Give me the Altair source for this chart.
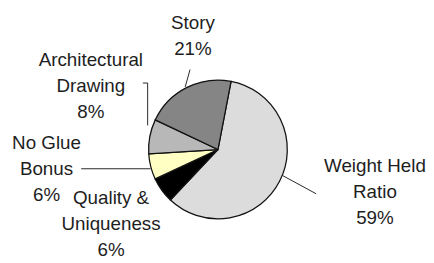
import altair as alt
import pandas as pd
import math

# ---- data ----
categories = ["Weight Held Ratio", "Quality & Uniqueness", "No Glue Bonus",
              "Architectural Drawing", "Story"]
values = [59, 6, 6, 8, 21]
label_text = ["Weight Held\nRatio\n59%", "Quality &\nUniqueness\n6%",
              "No Glue\nBonus\n6%", "Architectural\nDrawing\n8%", "Story\n21%"]

# ---- styling / layout (not data) ----
fills = ["#dcdcdc", "#000000", "#ffffc4", "#b8b8b8", "#858585"]
W, H = 418, 247
CX, CY, R = 215, 139, 72
PX, PY = 3, 3  # pie nudge
start = 0.19  # radians clockwise from 12 o'clock
# label anchor (centre x, first-line baseline y) relative to pie centre
label_off = [(166, 26), (-108, 60), (-175, 2), (-129, -84), (-23, -122)]
# leader lines relative to pie centre
leaders = {
    "Weight Held Ratio": [(70, 30), (105, 49)],
    "No Glue Bonus": [(-139, 23), (-67, 23)],
    "Architectural Drawing": [(-75, -66), (-70, -66), (-70, -22)],
    "Story": [(-26, -80), (-31, -62)],
}

df = pd.DataFrame({"cat": categories, "val": values, "idx": range(len(values))})

lab = pd.DataFrame({
    "cat": categories,
    "text": label_text,
    "x": [CX + o[0] for o in label_off],
    "y": [CY + o[1] for o in label_off],
})

rows = []
for k, pts in leaders.items():
    for i, (dx, dy) in enumerate(pts):
        rows.append({"cat": k, "o": i, "x": CX + dx, "y": CY + dy})
ld = pd.DataFrame(rows)

pie = alt.Chart(df).mark_arc(
    outerRadius=R, stroke="#111111", strokeWidth=1.3, x=CX + PX, y=CY + PY
).encode(
    theta=alt.Theta("val:Q", stack=True,
                    scale=alt.Scale(domain=[0, sum(values)],
                                    range=[start, start + 2 * math.pi])),
    color=alt.Color("cat:N", scale=alt.Scale(domain=categories, range=fills),
                    legend=None),
    order=alt.Order("idx:Q"),
)

lines = alt.Chart(ld).mark_line(color="#222222", strokeWidth=1).encode(
    x=alt.X("x:Q", scale=None),
    y=alt.Y("y:Q", scale=None),
    detail="cat:N",
    order="o:Q",
)

texts = alt.Chart(lab).mark_text(
    font="Liberation Sans", fontSize=19.5, color="#1e1e1e", align="center",
    baseline="alphabetic", lineBreak="\n", lineHeight=27
).encode(
    x=alt.X("x:Q", scale=None),
    y=alt.Y("y:Q", scale=None),
    text="text:N",
)

chart = alt.layer(pie, lines, texts).properties(
    width=W, height=H, padding=0, background="white"
).configure_view(stroke=None)

chart.save("out.html", embed_options={"renderer": "svg", "actions": False})
